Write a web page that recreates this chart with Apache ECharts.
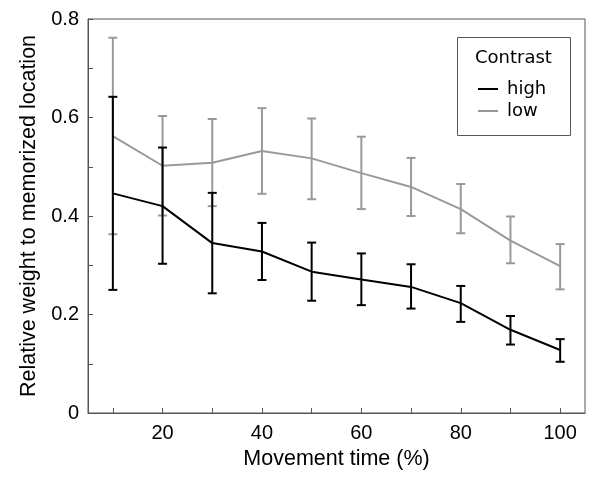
<!DOCTYPE html>
<html><head><meta charset="utf-8">
<script src="https://cdn.jsdelivr.net/npm/echarts@6/dist/echarts.min.js"></script>
<style>html,body{margin:0;padding:0;background:#fff}#c{width:600px;height:478px}</style>
</head><body><div id="c"></div>
<script>
const xValues = [10,20,30,40,50,60,70,80,90,100];
const highMean = [0.446,0.420,0.345,0.328,0.287,0.271,0.256,0.223,0.169,0.128];
const highLow  = [0.250,0.303,0.243,0.270,0.228,0.219,0.212,0.185,0.139,0.104];
const highHigh = [0.642,0.539,0.447,0.386,0.346,0.324,0.302,0.258,0.197,0.150];
const lowMean  = [0.562,0.502,0.508,0.532,0.517,0.487,0.459,0.414,0.350,0.298];
const lowLow   = [0.363,0.401,0.420,0.445,0.434,0.414,0.400,0.365,0.304,0.251];
const lowHigh  = [0.762,0.603,0.597,0.619,0.598,0.561,0.518,0.465,0.399,0.343];
const xTickValues = [10,20,30,40,50,60,70,80,90,100];
const xLabelValues = [20,40,60,80,100];
const yTickValues = [0,0.1,0.2,0.3,0.4,0.5,0.6,0.7,0.8];
const yLabelValues = [0,0.2,0.4,0.6,0.8];

const FONT = 'Liberation Sans';
const chart = echarts.init(document.getElementById('c'));

function errSeries(name, lo, hi, color) {
  return {
    type: 'custom', name: name + '_err', silent: true, z: 3,
    data: xValues.map((x, i) => [x, lo[i], hi[i]]),
    renderItem: function (params, api) {
      const top = api.coord([api.value(0), api.value(2)]);
      const bot = api.coord([api.value(0), api.value(1)]);
      const w = 4.5;
      const style = {stroke: color, lineWidth: 2, fill: null};
      return {type: 'group', children: [
        {type: 'line', shape: {x1: top[0], y1: top[1], x2: bot[0], y2: bot[1]}, style},
        {type: 'line', shape: {x1: top[0]-w, y1: top[1], x2: top[0]+w, y2: top[1]}, style},
        {type: 'line', shape: {x1: bot[0]-w, y1: bot[1], x2: bot[0]+w, y2: bot[1]}, style}
      ]};
    }
  };
}

chart.setOption({
  animation: false,
  grid: {left: 88, right: 15, top: 19, bottom: 65, show: true, borderColor: '#555', borderWidth: 1},
  xAxis: {
    type: 'value', min: 5, max: 105,
    name: 'Movement time (%)', nameLocation: 'middle', nameGap: 33,
    nameTextStyle: {fontFamily: FONT, fontSize: 21.5, color: '#000'},
    axisLine: {lineStyle: {color: '#555', width: 1}},
    axisTick: {inside: true, length: 5, customValues: xTickValues, lineStyle: {color: '#555'}},
    axisLabel: {customValues: xLabelValues, margin: 10, fontFamily: FONT, fontSize: 20, color: '#000'},
    splitLine: {show: false}
  },
  yAxis: {
    type: 'value', min: 0, max: 0.8,
    name: 'Relative weight to memorized location', nameLocation: 'middle', nameGap: 44,
    nameTextStyle: {fontFamily: FONT, fontSize: 21.5, color: '#000'},
    axisLine: {show: true, lineStyle: {color: '#555', width: 1}},
    axisTick: {show: true, inside: true, length: 5, customValues: yTickValues, lineStyle: {color: '#555'}},
    axisLabel: {customValues: yLabelValues, margin: 9, fontFamily: FONT, fontSize: 20, color: '#000'},
    splitLine: {show: false}
  },
  legend: {
    data: ['high', 'low'], orient: 'vertical', left: 478, top: 80, itemGap: 4, padding: 0,
    icon: 'rect', itemWidth: 20, itemHeight: 2,
    textStyle: {fontFamily: 'DejaVu Sans', fontSize: 18, color: '#000', padding: [0, 0, 0, 4]}
  },
  graphic: [
    {type: 'rect', left: 457, top: 37, shape: {width: 113, height: 98}, style: {fill: '#fff', stroke: '#555', lineWidth: 1}, z: 0},
    {type: 'text', left: 475, top: 49, style: {text: 'Contrast', fontFamily: 'DejaVu Sans', fontSize: 18, fill: '#000'}, z: 10}
  ],
  series: [
    {name: 'low', type: 'line', data: xValues.map((x,i)=>[x, lowMean[i]]), symbol: 'none', lineStyle: {color: '#999', width: 2}, itemStyle: {color: '#999'}, z: 2},
    errSeries('low', lowLow, lowHigh, '#999'),
    {name: 'high', type: 'line', data: xValues.map((x,i)=>[x, highMean[i]]), symbol: 'none', lineStyle: {color: '#000', width: 2}, itemStyle: {color: '#000'}, z: 4},
    errSeries('high', highLow, highHigh, '#000')
  ]
});
</script></body></html>
